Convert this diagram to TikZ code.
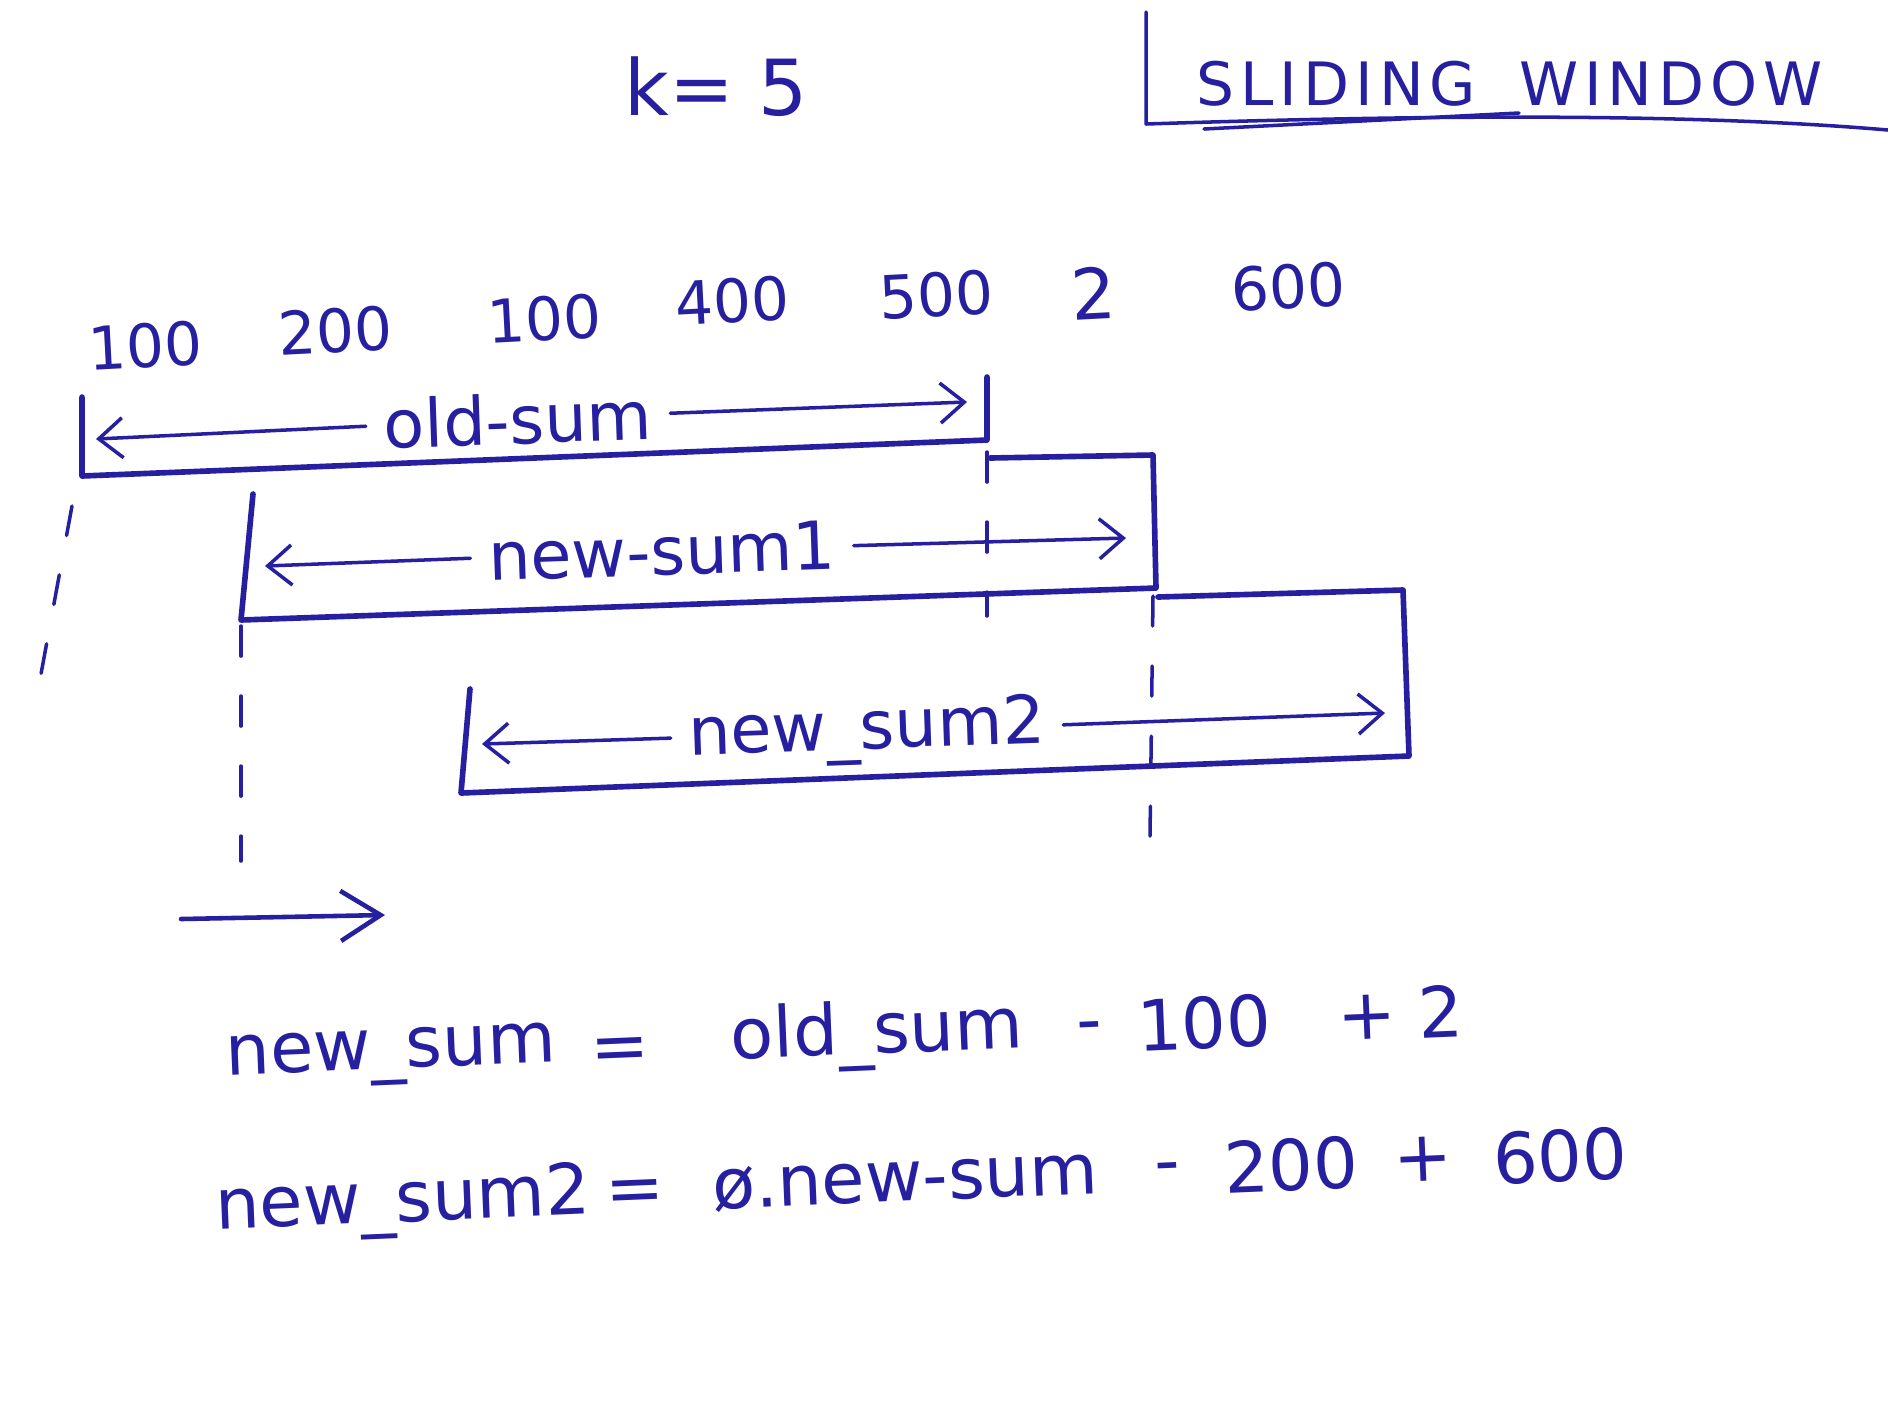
\documentclass[tikz,border=0pt]{standalone}
\usepackage{fontspec}
\setmainfont{DejaVu Sans}
\newfontfamily\titlefont[LetterSpace=10]{DejaVu Sans}
\usetikzlibrary{arrows.meta}
\definecolor{ink}{RGB}{38,32,160}

\begin{document}
\begin{tikzpicture}[x=0.01cm, y=-0.01cm]

\tikzset{pen/.style = {draw=ink, line width=1pt, line cap=round, line join=round}, }
\tikzset{bracket/.style = {pen, line width=1.6pt}, }
\tikzset{guide/.style = {pen, dash pattern=on 3mm off 4mm}, }
\tikzset{spanarrow/.style = {pen, -{Straight Barb[length=2.4mm,width=4mm]}}, }
\tikzset{movearrow/.style = {pen, line width=1.3pt, -{Straight Barb[length=4mm,width=5mm]}}, }
\tikzset{num/.style = {text=ink, font=\fontsize{17}{20}\selectfont, rotate=3}, }
\tikzset{lbl/.style = {text=ink, font=\fontsize{19}{22}\selectfont, inner sep=5pt, rotate=2}, }
\tikzset{eq/.style = {text=ink, font=\fontsize{20}{24}\selectfont, rotate=2.4}, }

\fill[white] (0,0) rectangle (1888,1408);
\clip (0,0) rectangle (1888,1408);
\useasboundingbox (0,0) rectangle (1888,1408);

% heading
\node[text=ink, font=\fontsize{22}{26}\selectfont] (k) at (716,87) {k= 5};
\node[text=ink, font=\titlefont\fontsize{17}{20}\selectfont, anchor=west, inner sep=0pt] (title) at (1196,84) {SLIDING\hspace{0.3em} WINDOW};
\coordinate (tb-top) at (1146,12);
\coordinate (tb-corner) at (1146,124);
\coordinate (tb-end) at (1888,130);
\coordinate (ul-a) at (1204,129);
\coordinate (ul-b) at (1519,113);
\draw[pen] (tb-top) -- (tb-corner) .. controls (1450,114) and (1700,114) .. (tb-end);
\draw[pen] (ul-a) -- (ul-b);

% the array
\node[num] (v1) at (145,346) {100};
\node[num] (v2) at (335,331) {200};
\node[num] (v3) at (544,319) {100};
\node[num] (v4) at (732,301) {400};
\node[num] (v5) at (936,295) {500};
\node[num, font=\fontsize{20}{24}\selectfont] (v6) at (1093,293) {2};
\node[num] (v7) at (1288,287) {600};

% old-sum window
\coordinate (os-tl) at (82,397);
\coordinate (os-bl) at (82,476);
\coordinate (os-br) at (987,440);
\coordinate (os-tr) at (987,377);
\draw[bracket] (os-tl) -- (os-bl) -- (os-br) -- (os-tr);
\coordinate (os-l) at (96,439);
\coordinate (os-r) at (967,402);
\node[lbl] (oldsum) at (518,419) {old-sum};
\draw[spanarrow] (oldsum) -- (os-l);
\draw[spanarrow] (oldsum) -- (os-r);

% new-sum1 window
\coordinate (n1-tl) at (253,494);
\coordinate (n1-bl) at (241,620);
\coordinate (n1-br) at (1156,588);
\coordinate (n1-tr) at (1153,455);
\coordinate (n1-te) at (990,458);
\draw[bracket] (n1-tl) -- (n1-bl) -- (n1-br) -- (n1-tr) -- (n1-te);
\coordinate (n1-l) at (265,566);
\coordinate (n1-r) at (1126,538);
\node[lbl] (newsum1) at (662,551) {new-sum1};
\draw[spanarrow] (newsum1) -- (n1-l);
\draw[spanarrow] (newsum1) -- (n1-r);

% new-sum2 window
\coordinate (n2-tl) at (470,689);
\coordinate (n2-bl) at (461,793);
\coordinate (n2-br) at (1409,756);
\coordinate (n2-tr) at (1403,590);
\coordinate (n2-te) at (1158,597);
\draw[bracket] (n2-tl) -- (n2-bl) -- (n2-br) -- (n2-tr) -- (n2-te);
\coordinate (n2-l) at (482,744);
\coordinate (n2-r) at (1385,713);
\node[lbl] (newsum2) at (867,732) {new\_sum2};
\draw[spanarrow] (newsum2) -- (n2-l);
\draw[spanarrow] (newsum2) -- (n2-r);

% guide lines
\coordinate (g1-a) at (72,506);
\coordinate (g1-b) at (34,712);
\coordinate (g2-a) at (987,452);
\coordinate (g2-b) at (987,616);
\coordinate (g3-a) at (241,626);
\coordinate (g3-b) at (241,861);
\coordinate (g4-a) at (1153,596);
\coordinate (g4-b) at (1150,837);
\draw[guide] (g1-a) -- (g1-b);
\draw[guide] (g2-a) -- (g2-b);
\draw[guide] (g3-a) -- (g3-b);
\draw[guide] (g4-a) -- (g4-b);

% slide direction
\coordinate (mv-a) at (181,919);
\coordinate (mv-b) at (385,915);
\draw[movearrow] (mv-a) -- (mv-b);

% formulas
\node[eq] (e1a) at (391,1057) {new\_sum};
\node[eq] (e1b) at (620,1054) {=};
\node[eq] (e1c) at (877,1035) {old\_sum};
\node[eq] (e1d) at (1090,1033) {-};
\node[eq] (e1e) at (1204,1023) {100};
\node[eq] (e1f) at (1367,1017) {+};
\node[eq] (e1g) at (1441,1011) {2};

\node[eq] (e2a) at (403,1204) {new\_sum2};
\node[eq] (e2b) at (635,1196) {=};
\node[eq] (e2c) at (905,1182) {ø.new-sum};
\node[eq] (e2d) at (1168,1174) {-};
\node[eq] (e2e) at (1291,1165) {200};
\node[eq] (e2f) at (1423,1159) {+};
\node[eq] (e2g) at (1560,1156) {600};

\end{tikzpicture}
\end{document}
